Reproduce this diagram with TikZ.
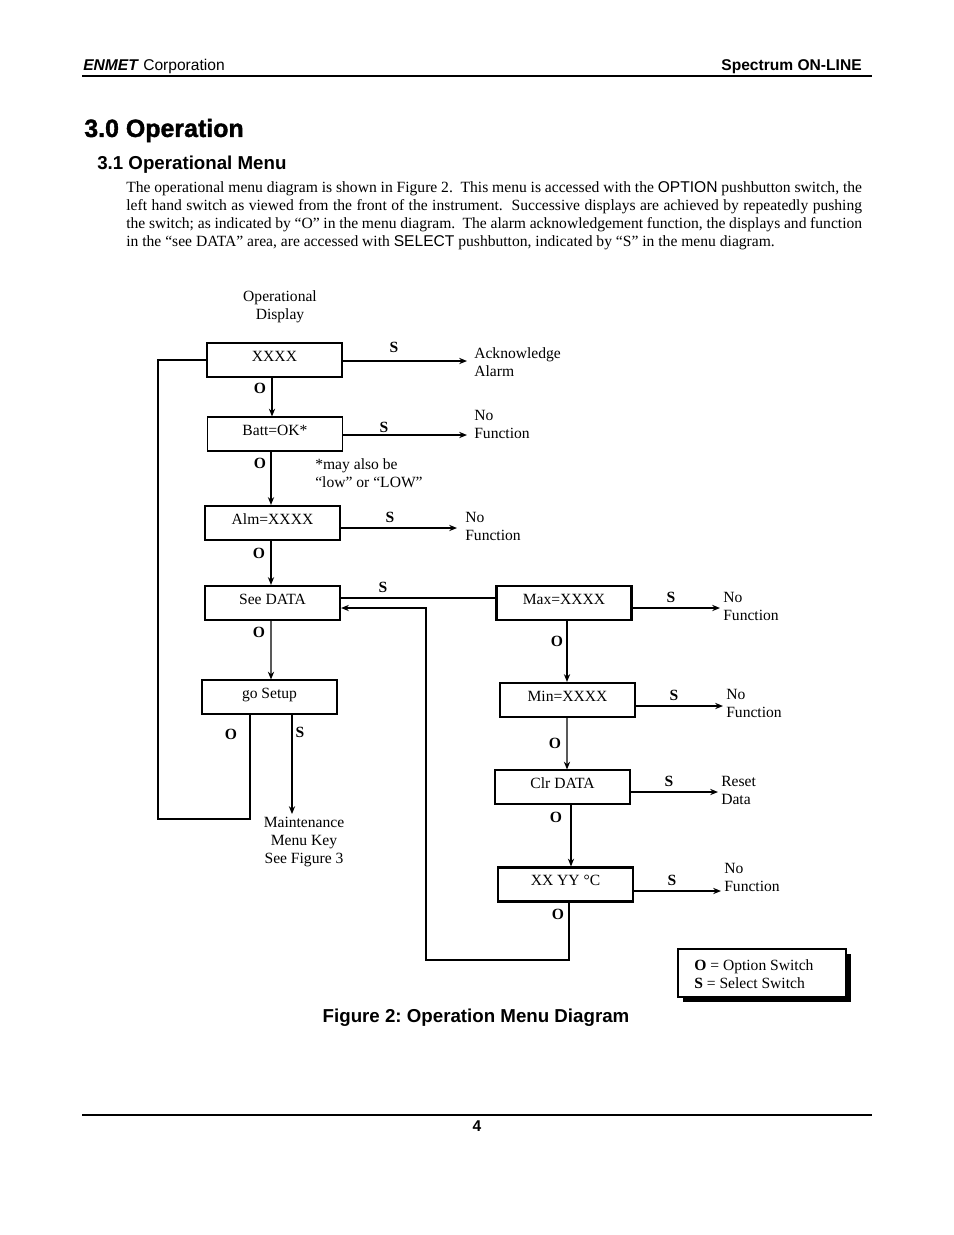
\documentclass[tikz,border=0pt]{standalone}
\usepackage{fontspec}
\setmainfont{Liberation Serif}
\newfontfamily\arial{Liberation Sans}
\newfontfamily\arialheavy[FakeBold=1.5]{Liberation Sans}
\usetikzlibrary{arrows.meta,shadows}
\newdimen\pxu \pxu=0.6415pt
\tikzset{
  box/.style={draw, rectangle, minimum width=135\pxu, inner sep=0pt, text height=11.6pt, text depth=10.2pt},
  thickbox/.style={box, line width=1.4pt},
  thinbox/.style={box, line width=0.7pt},
  conn/.style={line width=0.9pt},
  loopline/.style={line width=1.3pt},
  arr/.style={conn, -{Stealth[length=5pt,width=4pt]}},
  lbl/.style={font=\bfseries, inner sep=0pt},
  txt/.style={inner sep=0pt, align=left, anchor=north west},
  ctxt/.style={inner sep=0pt, align=center, anchor=north},
}
\begin{document}
\begin{tikzpicture}[x=0.6415pt,y=-0.6415pt, every node/.append style={font=\fontsize{10}{11.55}\selectfont}]
\useasboundingbox (0,0) rectangle (954,1235);
% header
\node[anchor=west, inner sep=0pt, font=\arial\fontsize{10}{12}\selectfont] (hdl) at (83,66.5) {\textbf{\textit{ENMET}} Corporation};
\node[anchor=east, inner sep=0pt, font=\arial\bfseries\fontsize{10}{12}\selectfont] (hdr) at (862,66.5) {Spectrum ON-LINE};
\draw[line width=1pt] (82,76) -- (872,76);
% titles
\node[anchor=west, inner sep=0pt, font=\arialheavy\bfseries\fontsize{16}{19}\selectfont] (t1) at (84,130.5) {3.0 Operation};
\node[anchor=west, inner sep=0pt, font=\arial\bfseries\fontsize{12}{14}\selectfont] (t2) at (97,164.5) {3.1 Operational Menu};
\node[anchor=north west, inner sep=0pt, text width=472pt, align=justify] (para) at (126,181) {The operational menu diagram is shown in Figure 2.\ \ This menu is accessed with the {\arial OPTION} pushbutton switch, the\linebreak left hand switch as viewed from the front of the instrument.\ \ Successive displays are achieved by repeatedly pushing\linebreak the switch; as indicated by “O” in the menu diagram.\ \ The alarm acknowledgement function, the displays and function\linebreak in the “see DATA” area, are accessed with {\arial SELECT} pushbutton, indicated by “S” in the menu diagram.};
% diagram
\node[ctxt] (opdisp) at (280,290.5) {Operational\\Display};
\node[thickbox] (xxxx) at (274.5,360) {XXXX};
\node[thinbox] (batt) at (275,434) {Batt=OK*};
\node[thickbox] (alm) at (272.5,523) {Alm=XXXX};
\node[thickbox] (seedata) at (272.5,603) {See DATA};
\node[thinbox] (gosetup) at (269.5,697) {go Setup};
\node[thickbox] (max) at (564,603) {Max=XXXX};
\node[thickbox] (min) at (567.5,700) {Min=XXXX};
\node[thinbox] (clr) at (562.5,787) {Clr DATA};
\node[thickbox] (xxyy) at (565.5,884.5) {XX YY °C};
% left column O arrows
\draw[arr] ([xshift=-2.5\pxu]xxxx.south) -- ([xshift=-3\pxu]batt.north);
\node[lbl] (o1) at (260,388) {O};
\draw[arr] ([xshift=-4\pxu]batt.south) -- ([xshift=-1.5\pxu]alm.north);
\node[lbl] (o2) at (260,463) {O};
\draw[arr] ([xshift=-1.5\pxu]alm.south) -- ([xshift=-1.5\pxu]seedata.north);
\node[lbl] (o3) at (259,553) {O};
\draw[arr] ([xshift=-1.5\pxu]seedata.south) -- ([xshift=1.5\pxu]gosetup.north);
\node[lbl] (o4) at (259,632) {O};
% loop back from go Setup
\coordinate (l1) at (158,819);
\draw[loopline] ([xshift=-19.5\pxu]gosetup.south) |- (l1) |- (xxxx.west);
\node[lbl] (o5) at (231,734) {O};
\coordinate (maint) at (292,814);
\draw[arr] (gosetup.south -| maint) -- (maint);
\node[lbl] (s5) at (300,732) {S};
\node[ctxt] (mtext) at (304,816.5) {Maintenance\\Menu Key\\See Figure 3};
% S arrows left column
\coordinate (ack) at (467,361);
\draw[arr] (ack -| xxxx.east) -- (ack);
\node[lbl] (s1) at (394,347) {S};
\node[txt] (acktext) at (474,347.5) {Acknowledge\\Alarm};
\coordinate (nf1) at (467,435);
\draw[arr] (nf1 -| batt.east) -- (nf1);
\node[lbl] (s2) at (384,427) {S};
\node[txt] (nf1text) at (474,409.5) {No\\Function};
\node[txt] (note) at (315,458.5) {*may also be\\“low” or “LOW”};
\coordinate (nf2) at (457,528);
\draw[arr] (nf2 -| alm.east) -- (nf2);
\node[lbl] (s3) at (390,517) {S};
\node[txt] (nf2text) at (465,511.5) {No\\Function};
% See DATA to Max
\coordinate (sd) at (0,598);
\draw[conn] (sd -| seedata.east) -- (sd -| max.west);
\node[lbl] (s4) at (383,587) {S};
% right column
\draw[arr] ([xshift=3\pxu]max.south) -- ([xshift=-0.5\pxu]min.north);
\node[lbl] (o6) at (557,641) {O};
\draw[arr] ([xshift=-0.5\pxu]min.south) -- ([xshift=4.5\pxu]clr.north);
\node[lbl] (o7) at (555,743) {O};
\draw[arr] ([xshift=8.5\pxu]clr.south) -- ([xshift=5.5\pxu]xxyy.north);
\node[lbl] (o8) at (556,817) {O};
\coordinate (r1) at (426,960);
\draw[arr] ([xshift=3.5\pxu]xxyy.south) |- (r1) |- ([yshift=-5\pxu]seedata.east);
\node[lbl] (o9) at (558,914) {O};
\coordinate (nf3) at (720,608);
\draw[arr] (nf3 -| max.east) -- (nf3);
\node[lbl] (s6) at (671,597) {S};
\node[txt] (nf3text) at (723,591.5) {No\\Function};
\coordinate (nf4) at (723,706);
\draw[arr] (nf4 -| min.east) -- (nf4);
\node[lbl] (s7) at (674,695) {S};
\node[txt] (nf4text) at (726,688.5) {No\\Function};
\coordinate (rd) at (718,792);
\draw[arr] (rd -| clr.east) -- (rd);
\node[lbl] (s8) at (669,781) {S};
\node[txt] (rdtext) at (721,775.5) {Reset\\Data};
\coordinate (nf5) at (721,891);
\draw[arr] (nf5 -| xxyy.east) -- (nf5);
\node[lbl] (s9) at (672,880) {S};
\node[txt] (nf5text) at (724,862.5) {No\\Function};
% legend
\node[draw, line width=0.7pt, fill=white, minimum width=168\pxu, minimum height=48\pxu, inner sep=0pt,
  drop shadow={shadow xshift=3.5pt, shadow yshift=-3.5pt, fill=black, opacity=1}] (legend) at (762,973) {};
\node[txt] (legtext) at (694,959) {\textbf{O} = Option Switch\\\textbf{S} = Select Switch};
% caption
\node[inner sep=0pt, font=\arial\bfseries\fontsize{12}{14}\selectfont\frenchspacing] (cap) at (476,1018) {Figure 2: Operation Menu Diagram};
% footer
\draw[line width=1.6pt] (82,1115) -- (872,1115);
\node[inner sep=0pt, font=\arial\bfseries\fontsize{10}{12}\selectfont] (pg) at (477,1126) {4};
\end{tikzpicture}
\end{document}
